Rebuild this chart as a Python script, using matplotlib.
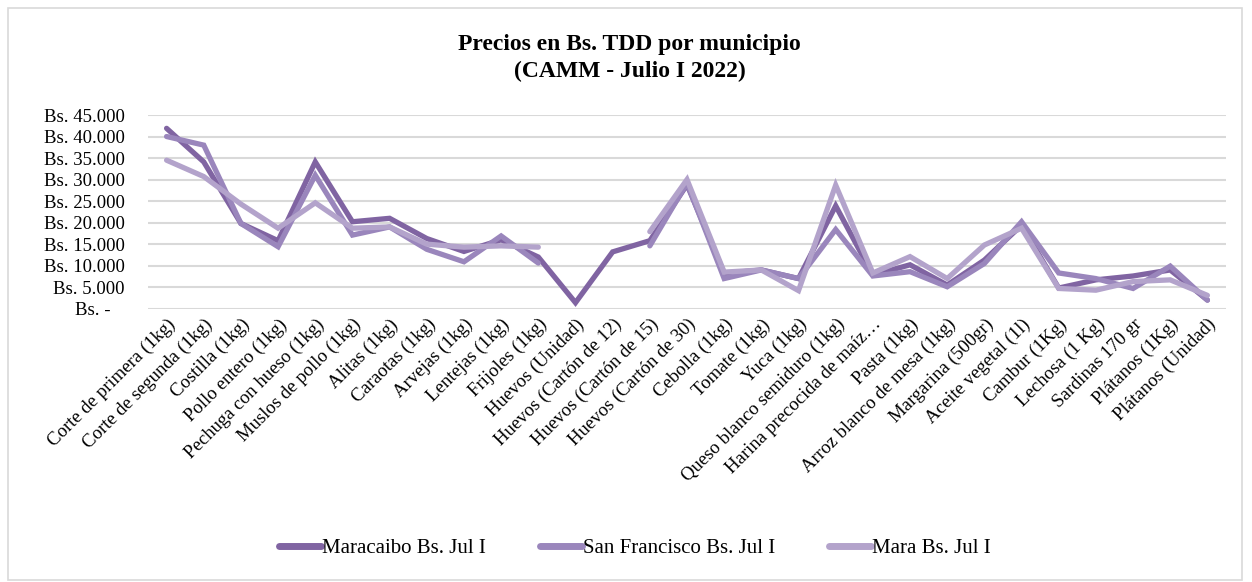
import numpy as np
import matplotlib
matplotlib.use("Agg")
import matplotlib.pyplot as plt
from matplotlib.patches import Rectangle
from matplotlib.ticker import FuncFormatter

plt.rcParams['font.family'] = ['Liberation Serif', 'DejaVu Serif']

categories = [
    "Corte de primera (1kg)", "Corte de segunda (1kg)", "Costilla (1kg)",
    "Pollo entero (1kg)", "Pechuga con hueso (1kg)", "Muslos de pollo (1kg)",
    "Alitas (1kg)", "Caraotas (1kg)", "Arvejas (1kg)", "Lentejas (1kg)",
    "Frijoles (1kg)", "Huevos (Unidad)", "Huevos (Cartón de 12)",
    "Huevos (Cartón de 15)", "Huevos (Cartón de 30)", "Cebolla (1kg)",
    "Tomate (1kg)", "Yuca (1kg)", "Queso blanco semiduro (1kg)",
    "Harina precocida de maíz…", "Pasta (1kg)", "Arroz blanco de mesa (1kg)",
    "Margarina (500gr)", "Aceite vegetal (1l)", "Cambur (1Kg)",
    "Lechosa (1 Kg)", "Sardinas 170 gr", "Plátanos (1Kg)", "Plátanos (Unidad)",
]

nan = np.nan
maracaibo = [41900, 34100, 19800, 15800, 34100, 20200, 21000, 16300, 13300,
             16000, 12000, 1400, 13200, 15800, 28800, 8200, 9000, 7000, 23900,
             7800, 10200, 5500, 11300, 19400, 4800, 6700, 7600, 9000, 2000]
san_francisco = [40000, 38000, 19800, 14400, 31000, 17100, 19000, 13800, 10900,
                 16900, 10600, nan, nan, 14600, 29200, 7000, 9000, 7000, 18400,
                 7600, 8600, 5100, 10500, 20200, 8300, 7000, 4700, 9900, 2000]
mara = [34500, 30700, 24300, 18700, 24600, 18700, 19000, 15000, 14300,
        14600, 14300, nan, nan, 17900, 30000, 8500, 9000, 4200, 28700,
        8300, 12100, 7000, 14800, 18700, 4700, 4300, 6300, 6700, 3100]

series_names = ["Maracaibo Bs. Jul I", "San Francisco Bs. Jul I", "Mara Bs. Jul I"]
colors = ["#8064A2", "#9A86BC", "#B3A3CB"]

fig = plt.figure(figsize=(12.52, 5.82), dpi=100)
ax = fig.add_axes([148/1252, 1-308.7/582, (1226-148)/1252, (308.7-115)/582])

x = np.arange(len(categories))
for vals, name, c in zip([maracaibo, san_francisco, mara], series_names, colors):
    ax.plot(x, vals, color=c, lw=3.8, label=name, solid_capstyle='round',
            solid_joinstyle='miter')

ax.set_xlim(-0.5, len(categories) - 0.5)
ax.set_ylim(0, 45000)
ax.set_yticks(np.arange(0, 45001, 5000))

def fmt(v, pos):
    if v == 0:
        return "Bs. -   "
    return "Bs. " + f"{int(v):,}".replace(",", ".")
ax.yaxis.set_major_formatter(FuncFormatter(fmt))
ax.grid(axis='y', color='#D9D9D9', lw=1.5)
ax.set_axisbelow(True)
for s in ax.spines.values():
    s.set_visible(False)
ax.tick_params(axis='both', length=0, colors='black')
ax.tick_params(axis='y', pad=17, labelsize=13.5)
ax.tick_params(axis='x', pad=5, labelsize=13.5)
ax.set_xticks(x)
ax.set_xticklabels(categories, rotation=45, ha='right', rotation_mode='anchor')

fig.text(0.503, 0.9, "Precios en Bs. TDD por municipio\n(CAMM - Julio I 2022)",
         ha='center', va='center', fontsize=17, fontweight='bold', linespacing=1.35)

leg = fig.legend(loc='center', bbox_to_anchor=(0.507, 0.058), ncol=3, frameon=False,
                 fontsize=15, handlelength=2.0, handletextpad=0.05, columnspacing=2.6)
for h in leg.get_lines():
    h.set_linewidth(5)

fig.patches.append(Rectangle((8/1252, 2/582), 1234/1252, 572/582, transform=fig.transFigure,
                             fill=False, edgecolor='#D9D9D9', lw=1.2))

fig.savefig("out.png", dpi=100)
